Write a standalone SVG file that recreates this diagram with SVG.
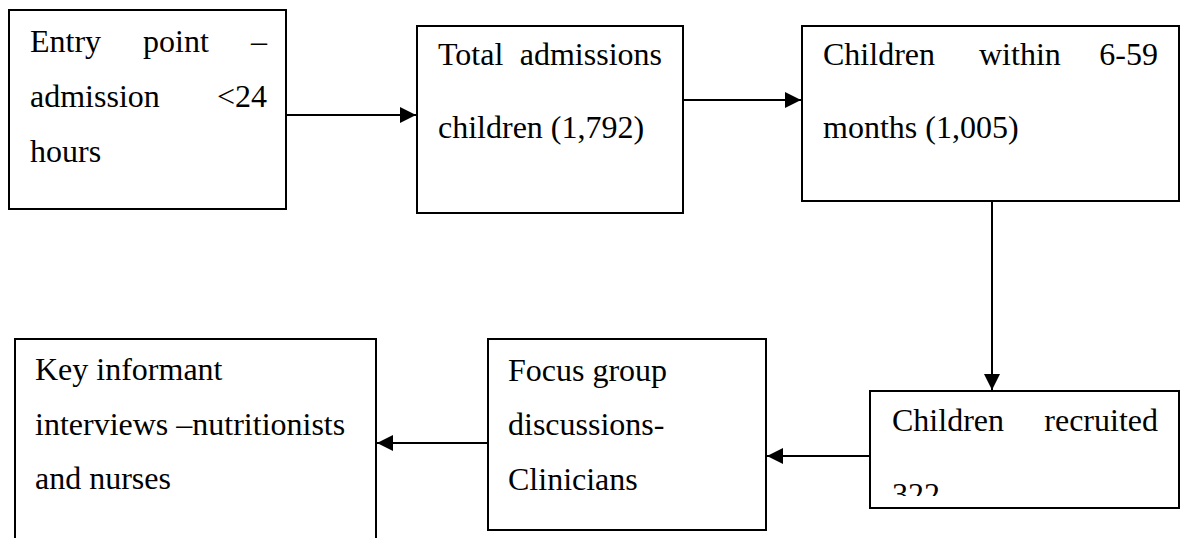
<svg xmlns="http://www.w3.org/2000/svg" width="1180" height="538" viewBox="0 0 1180 538">
<style>
.box{fill:#fff;stroke:#000;stroke-width:2}
.t{font-family:"Liberation Serif","Times New Roman",serif;font-size:32px;fill:#000}
.e{text-anchor:end}
.c{stroke:#000;stroke-width:2;fill:none}
</style>
<defs>
<marker id="ah" markerUnits="userSpaceOnUse" markerWidth="16" markerHeight="16" viewBox="0 0 15 15" refX="15" refY="7.5" orient="auto">
<path d="M0,0 L15,7.5 L0,15 z" fill="#000"/>
</marker>
<clipPath id="clip5"><rect x="870" y="391" width="310" height="105"/></clipPath>
</defs>
<rect width="1180" height="538" fill="#fff"/>
<g id="connectors">
<line class="c" x1="287" y1="115" x2="416" y2="115" marker-end="url(#ah)"/>
<line class="c" x1="683" y1="100" x2="801" y2="100" marker-end="url(#ah)"/>
<line class="c" x1="992" y1="201" x2="992" y2="390" marker-end="url(#ah)"/>
<line class="c" x1="870" y1="456" x2="767" y2="456" marker-end="url(#ah)"/>
<line class="c" x1="488" y1="443" x2="377" y2="443" marker-end="url(#ah)"/>
</g>
<g id="node-entry">
<rect class="box" x="9" y="10" width="277" height="199"/>
<text class="t" y="52"><tspan x="30">Entry</tspan><tspan x="143">point</tspan><tspan x="267" class="e" text-anchor="end">–</tspan></text>
<text class="t" y="107"><tspan x="30">admission</tspan></text>
<text class="t e" x="267" y="107">&lt;24</text>
<text class="t" x="30" y="162">hours</text>
</g>
<g id="node-total">
<rect class="box" x="417" y="26" width="266" height="187"/>
<text class="t" x="438" y="65">Total</text>
<text class="t e" x="662" y="65">admissions</text>
<text class="t" x="438" y="138">children (1,792)</text>
</g>
<g id="node-within">
<rect class="box" x="802" y="26" width="377" height="175"/>
<text class="t" x="823" y="65">Children</text>
<text class="t" x="979" y="65">within</text>
<text class="t e" x="1158" y="65">6-59</text>
<text class="t" x="823" y="138">months (1,005)</text>
</g>
<g id="node-recruited">
<rect class="box" x="870" y="391" width="309" height="117"/>
<text class="t" x="892" y="431">Children</text>
<text class="t e" x="1158" y="431">recruited</text>
<text class="t" x="892" y="505" clip-path="url(#clip5)">322</text>
</g>
<g id="node-focus">
<rect class="box" x="488" y="339" width="278" height="191"/>
<text class="t" x="508" y="381">Focus group</text>
<text class="t" x="508" y="435">discussions-</text>
<text class="t" x="508" y="490">Clinicians</text>
</g>
<g id="node-key">
<rect class="box" x="15" y="339" width="361" height="210"/>
<text class="t" x="35" y="380">Key informant</text>
<text class="t" x="35" y="435">interviews –nutritionists</text>
<text class="t" x="35" y="489">and nurses</text>
</g>
</svg>
